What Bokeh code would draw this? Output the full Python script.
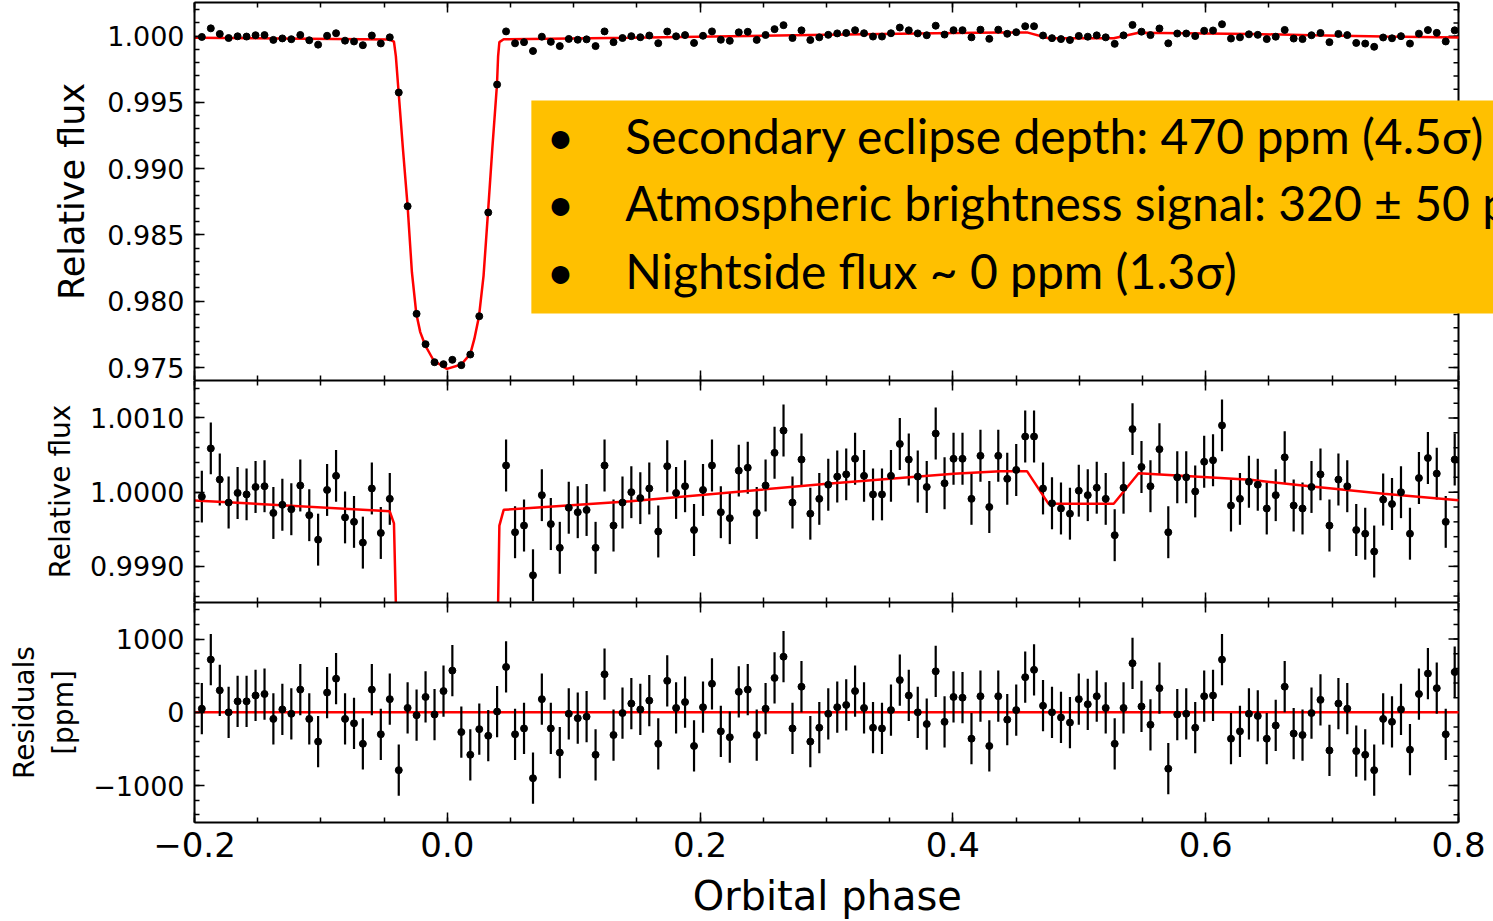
import math
from bokeh.plotting import figure
from bokeh.layouts import column
from bokeh.models import (ColumnDataSource, Range1d, LinearAxis, SingleIntervalTicker,
                          CustomJSTickFormatter, Span, BoxAnnotation, Label)
from bokeh.embed import file_html
from bokeh.resources import INLINE

# ---------------- data ----------------
phase = [
    -0.1942, -0.1871, -0.1800, -0.1730, -0.1659, -0.1588, -0.1517, -0.1446, -0.1376, -0.1305,
    -0.1234, -0.1163, -0.1092, -0.1022, -0.0951, -0.0880, -0.0809, -0.0738, -0.0668, -0.0597,
    -0.0526, -0.0455, -0.0384, -0.0314, -0.0243, -0.0172, -0.0101, -0.0030, 0.0040, 0.0111,
    0.0182, 0.0253, 0.0324, 0.0394, 0.0465, 0.0536, 0.0607, 0.0678, 0.0748, 0.0819,
    0.0890, 0.0961, 0.1032, 0.1102, 0.1173, 0.1244, 0.1315, 0.1386, 0.1456, 0.1527,
    0.1598, 0.1669, 0.1740, 0.1810, 0.1881, 0.1952, 0.2023, 0.2094, 0.2164, 0.2235,
    0.2306, 0.2377, 0.2448, 0.2518, 0.2589, 0.2660, 0.2731, 0.2802, 0.2872, 0.2943,
    0.3014, 0.3085, 0.3156, 0.3226, 0.3297, 0.3368, 0.3439, 0.3510, 0.3580, 0.3651,
    0.3722, 0.3793, 0.3864, 0.3934, 0.4005, 0.4076, 0.4147, 0.4218, 0.4288, 0.4359,
    0.4430, 0.4501, 0.4572, 0.4642, 0.4713, 0.4784, 0.4855, 0.4926, 0.4996, 0.5067,
    0.5138, 0.5209, 0.5280, 0.5350, 0.5421, 0.5492, 0.5563, 0.5634, 0.5704, 0.5775,
    0.5846, 0.5917, 0.5988, 0.6058, 0.6129, 0.6200, 0.6271, 0.6342, 0.6412, 0.6483,
    0.6554, 0.6625, 0.6696, 0.6766, 0.6837, 0.6908, 0.6979, 0.7050, 0.7120, 0.7191,
    0.7262, 0.7333, 0.7404, 0.7474, 0.7545, 0.7616, 0.7687, 0.7758, 0.7828, 0.7899,
    0.7970,
]

flux = [
    0.99994, 1.00059, 1.00017, 0.99986, 0.99999, 0.99997, 1.00007, 1.00008, 0.99972, 0.99983,
    0.99977, 1.00009, 0.99969, 0.99936, 1.00003, 1.00022, 0.99966, 0.99960, 0.99932, 1.00005,
    0.99945, 0.99991, 0.99575, 0.98717, 0.97905, 0.97676, 0.97540, 0.97525, 0.97558, 0.97518,
    0.97598, 0.97887, 0.98670, 0.99635, 1.00036, 0.99946, 0.99955, 0.99888, 0.99996, 0.99957,
    0.99925, 0.99979, 0.99973, 0.99976, 0.99925, 1.00036, 0.99955, 0.99986, 1.00000, 0.99992,
    1.00005, 0.99947, 1.00035, 0.99999, 1.00008, 0.99949, 1.00003, 1.00036, 0.99973, 0.99965,
    1.00029, 1.00033, 0.99972, 1.00009, 1.00053, 1.00083, 0.99986, 1.00044, 0.99971, 0.99991,
    1.00010, 1.00021, 1.00024, 1.00045, 1.00022, 0.99997, 0.99997, 1.00022, 1.00065, 1.00044,
    1.00021, 1.00007, 1.00079, 1.00012, 1.00045, 1.00045, 0.99991, 1.00049, 0.99980, 1.00049,
    1.00018, 1.00030, 1.00075, 1.00075, 1.00005, 0.99985, 0.99978, 0.99971, 1.00002, 0.99996,
    1.00006, 0.99991, 0.99942, 1.00006, 1.00085, 1.00034, 1.00008, 1.00058, 0.99946, 1.00020,
    1.00020, 1.00001, 1.00041, 1.00043, 1.00090, 0.99982, 0.99991, 1.00014, 1.00010, 0.99978,
    0.99996, 1.00047, 0.99982, 0.99978, 1.00007, 1.00024, 0.99955, 1.00017, 1.00008, 0.99949,
    0.99944, 0.99920, 0.99990, 0.99984, 1.00000, 0.99944, 1.00019, 1.00046, 1.00025, 0.99960,
    1.00044,
]

residual_ppm = [
    50, 720, 300, 0, 150, 150, 230, 250, -90, 40,
    -20, 310, -90, -400, 270, 460, -90, -150, -430, 310,
    -300, 180, -790, 60, -40, 210, -30, 290, 570, -270,
    -580, -230, -320, 10, 620, -300, -220, -900, 180, -220,
    -550, -20, -80, -60, -580, 520, -310, -10, 120, 40,
    160, -430, 430, 60, 140, -460, 70, 390, -260, -340,
    280, 310, -310, 50, 470, 760, -220, 350, -400, -210,
    -20, 70, 100, 290, 60, -210, -220, 30, 440, 230,
    0, -160, 560, -130, 210, 200, -360, 220, -460, 220,
    -100, 30, 480, 580, 90, 0, -70, -140, 180, 110,
    220, 60, -430, 60, 670, 80, -170, 330, -770, -30,
    -20, -210, 220, 230, 720, -360, -260, -20, -50, -360,
    -180, 350, -290, -310, -10, 170, -520, 120, 50, -530,
    -580, -790, -90, -130, 40, -510, 250, 530, 330, -300,
    550,
]

flux_err_ppm = 350

model_phase = [
    -0.2000, -0.0456, -0.0422, -0.0407, -0.0385, -0.0351, -0.0314, -0.0280, -0.0245, -0.0214,
    -0.0174, -0.0108, -0.0003, 0.0111, 0.0182, 0.0214, 0.0251, 0.0287, 0.0322, 0.0356,
    0.0393, 0.0402, 0.0412, 0.0446, 0.1448, 0.3004, 0.4006, 0.4375, 0.4586, 0.4757,
    0.5272, 0.5469, 0.6353, 0.6841, 0.7408, 0.8000,
]
model_flux = [
    0.999888, 0.999744, 0.999580, 0.998500, 0.995750, 0.991500, 0.987170, 0.982190, 0.979050, 0.977670,
    0.976660, 0.975530, 0.974900, 0.975230, 0.976030, 0.977160, 0.978870, 0.981940, 0.986700, 0.991500,
    0.996350, 0.998500, 0.999550, 0.999762, 0.999879, 1.000112, 1.000247, 1.000283, 1.000283, 0.999843,
    0.999843, 1.000256, 1.000166, 1.000076, 0.999978, 0.999890,
]

x_label = "Orbital phase"
y_labels = ["Relative flux", "Relative flux", "Residuals\n[ppm]"]
notes = [
    "Secondary eclipse depth: 470 ppm (4.5\u03c3)",
    "Atmospheric brightness signal: 320 \u00b1 50 ppm",
    "Nightside flux ~ 0 ppm (1.3\u03c3)",
]

# ---------------- derived columns ----------------
err = flux_err_ppm * 1e-6
src = ColumnDataSource(dict(
    phase=phase, flux=flux,
    lo=[f - err for f in flux], hi=[f + err for f in flux],
    res=residual_ppm,
    rlo=[r - flux_err_ppm for r in residual_ppm],
    rhi=[r + flux_err_ppm for r in residual_ppm],
))
msrc = ColumnDataSource(dict(x=model_phase, y=model_flux))

W = 1493
LEFT = 194
RIGHT = 35            # space right of the axes box in the original
FRAME_W = W - LEFT - RIGHT
FONT = "DejaVu Sans"
X0, X1 = -0.2, 0.8
# every frame runs to the window edge (so the note box can overflow like the original);
# the axes box itself ends at X1, drawn with bounded axes and a right edge line
x_range = Range1d(X0, X1 + (X1 - X0) * RIGHT / FRAME_W)

MINUS = "\u2212"
fmt_x = CustomJSTickFormatter(code="""
const v = Math.abs(tick) < 1e-9 ? 0 : tick;
return (v < 0 ? '%s' : '') + Math.abs(v).toFixed(1);
""" % MINUS)


def fmt_fixed(d):
    return CustomJSTickFormatter(code="return tick.toFixed(%d);" % d)


fmt_int = CustomJSTickFormatter(code="""
const v = Math.round(tick);
return (v < 0 ? '%s' : '') + Math.abs(v).toString();
""" % MINUS)


def style(ax, show, size="27px"):
    ax.axis_line_width = 2
    ax.axis_line_color = "black"
    ax.major_tick_in = 10
    ax.major_tick_out = 0
    ax.minor_tick_in = 5
    ax.minor_tick_out = 0
    ax.major_tick_line_width = 1.5
    ax.minor_tick_line_width = 1.5
    ax.major_tick_line_color = "black"
    ax.minor_tick_line_color = "black"
    ax.major_label_text_font = FONT
    ax.axis_label_text_font = FONT
    ax.axis_label_text_font_style = "normal"
    ax.axis_label_text_color = "black"
    if show:
        ax.major_label_text_font_size = size
        ax.major_label_text_color = "black"
    else:
        ax.major_label_text_font_size = "1px"
        ax.major_label_text_color = None
        ax.major_label_standoff = 0
        ax.axis_label = None


def make_fig(height, y0, y1, yint, yfmt, ylabel, ylabel_size, ylabel_standoff,
             top_border, bottom_border, show_x, right_major, right_minor):
    p = figure(width=W, height=height, x_range=x_range, y_range=Range1d(y0, y1),
               output_backend="svg", toolbar_location=None,
               x_axis_location=None, y_axis_location=None,
               min_border_left=LEFT, min_border_right=0,
               min_border_top=top_border, min_border_bottom=bottom_border)
    p.outline_line_color = None
    p.background_fill_color = "white"
    p.border_fill_color = "white"
    for g in p.grid:
        g.visible = False

    left = LinearAxis(ticker=SingleIntervalTicker(interval=yint, num_minor_ticks=5),
                      formatter=yfmt, axis_label=ylabel)
    style(left, True)
    left.major_label_standoff = 10
    left.axis_label_text_font_size = ylabel_size
    left.axis_label_standoff = ylabel_standoff
    left.axis_label_text_align = "center"
    p.add_layout(left, "left")

    above = LinearAxis(ticker=SingleIntervalTicker(interval=0.2, num_minor_ticks=4),
                       bounds=(X0, X1))
    style(above, False)
    p.add_layout(above, "above")

    # the label is centred on the (wider) frame; trailing figure/thin spaces bring its
    # visible text back to the centre of the axes box
    below = LinearAxis(ticker=SingleIntervalTicker(interval=0.2, num_minor_ticks=4),
                       formatter=fmt_x,
                       axis_label=(x_label + "\u2007\u2009") if show_x else None,
                       bounds=(X0, X1))
    style(below, show_x, "34px")
    if show_x:
        below.major_label_standoff = 9
        below.axis_label_text_font_size = "40px"
        below.axis_label_standoff = 13
    p.add_layout(below, "below")

    # right edge of the axes box with inward ticks
    p.add_layout(Span(location=X1, dimension="height", line_color="black", line_width=2,
                      level="underlay"))
    p.ray(x=[X1] * len(right_major), y=right_major, length=10, length_units="screen",
          angle=math.pi, line_color="black", line_width=1.5)
    p.ray(x=[X1] * len(right_minor), y=right_minor, length=5, length_units="screen",
          angle=math.pi, line_color="black", line_width=1.5)
    return p


# ---------------- top panel ----------------
p1 = make_fig(380, 0.97402, 1.00254, 0.005, fmt_fixed(3), y_labels[0], "35px", 12, 2, 0, False,
              [0.975, 0.980, 0.985, 0.990, 0.995, 1.000],
              [round(0.974 + 0.001 * i, 3) for i in range(29)])
p1.line("x", "y", source=msrc, line_color="#ff0000", line_width=2.5)
p1.scatter("phase", "flux", source=src, size=7, color="black")

box = BoxAnnotation(left=0.0665, right=0.84, top=0.99515, bottom=0.97908,
                    fill_color="#FFC000", fill_alpha=1.0, line_color=None, level="annotation")
p1.add_layout(box)
for text, yb in zip(notes, [0.992507, 0.987452, 0.982321]):
    p1.add_layout(Label(x=0.0894, y=yb, text="\u2022", text_font="Lato", text_font_size="48px",
                        text_align="center", text_baseline="alphabetic", text_color="black"))
    p1.add_layout(Label(x=0.1408, y=yb, text=text, text_font="Lato", text_font_size="48px",
                        text_align="left", text_baseline="alphabetic", text_color="black"))

# ---------------- middle panel ----------------
p2 = make_fig(222, 0.998513, 1.001505, 0.001, fmt_fixed(4), y_labels[1], "28px", 10, 0, 0, False,
              [0.999, 1.000, 1.001],
              [round(0.9986 + 0.0002 * i, 4) for i in range(15)])
p2.segment("phase", "lo", "phase", "hi", source=src, line_color="black", line_width=2.2)
p2.line("x", "y", source=msrc, line_color="#ff0000", line_width=2.5)
p2.scatter("phase", "flux", source=src, size=7, color="black")

# ---------------- residual panel ----------------
p3 = make_fig(319, -1505, 1500, 1000, fmt_int, y_labels[2], "28px", 10, 0, 96, True,
              [-1000, 0, 1000],
              [-1400 + 200 * i for i in range(15)])
p3.segment(x0=[X0], y0=[0.0], x1=[X1], y1=[0.0], line_color="#ff0000", line_width=2.5)
p3.segment("phase", "rlo", "phase", "rhi", source=src, line_color="black", line_width=2.2)
p3.scatter("phase", "res", source=src, size=7, color="black")

layout = column(p1, p2, p3, spacing=0)
open("out.html", "w").write(file_html(layout, INLINE))
